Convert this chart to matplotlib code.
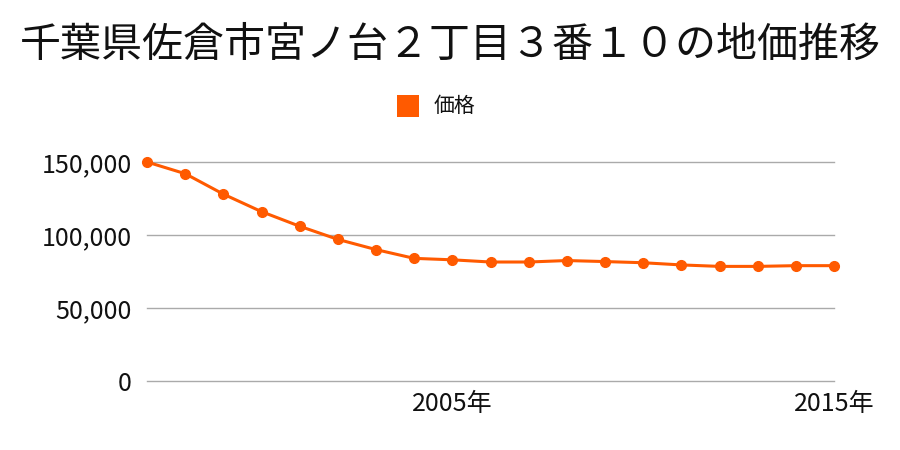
import matplotlib
matplotlib.use("Agg")
import matplotlib.pyplot as plt
from matplotlib.patches import Rectangle

years = list(range(1997, 2016))
prices = [150000, 142000, 128000, 116000, 106000, 97000, 90000, 84000, 83000,
          81500, 81500, 82500, 81800, 81000, 79500, 78500, 78500, 79000, 79000]
xtick_years = [2005, 2015]
xtick_labels = ["2005年", "2015年"]
yticks = [0, 50000, 100000, 150000]
title = "千葉県佐倉市宮ノ台２丁目３番１０の地価推移"
series_name = "価格"

plt.rcParams['font.family'] = ['Noto Sans CJK JP', 'DejaVu Sans']
color = "#ff5a00"

fig = plt.figure(figsize=(9, 4.5), dpi=100)
ax = fig.add_axes([147/900, 1-381/450, (834-147)/900, (381-162)/450])
ax.plot(years, prices, color=color, lw=2.2, marker='o', markersize=7, clip_on=False, zorder=3)
ax.set_xlim(1997, 2015)
ax.set_ylim(0, 150000)
ax.set_yticks(yticks)
ax.set_yticklabels([f"{v:,}" for v in yticks])
ax.set_xticks(xtick_years)
ax.set_xticklabels(xtick_labels)
ax.grid(axis='y', color='#aaaaaa', lw=1)
for gl in ax.get_ygridlines():
    gl.set_clip_on(False)
ax.set_axisbelow(True)
for s in ax.spines.values():
    s.set_visible(False)
ax.tick_params(axis='both', length=0, labelsize=18, colors='#111111')
ax.tick_params(axis='y', pad=11)
ax.tick_params(axis='x', pad=7)

fig.text(0.5, 1-45/450, title, ha='center', va='center', fontsize=29.5, color='#111111')
fig.patches.append(Rectangle((397/900, 1-117/450), 22/900, 22/450, transform=fig.transFigure,
                             facecolor=color, edgecolor='none'))
fig.text(434/900, 1-106/450, series_name, ha='left', va='center', fontsize=15, color='#111111')

fig.savefig("out.png", dpi=100)
